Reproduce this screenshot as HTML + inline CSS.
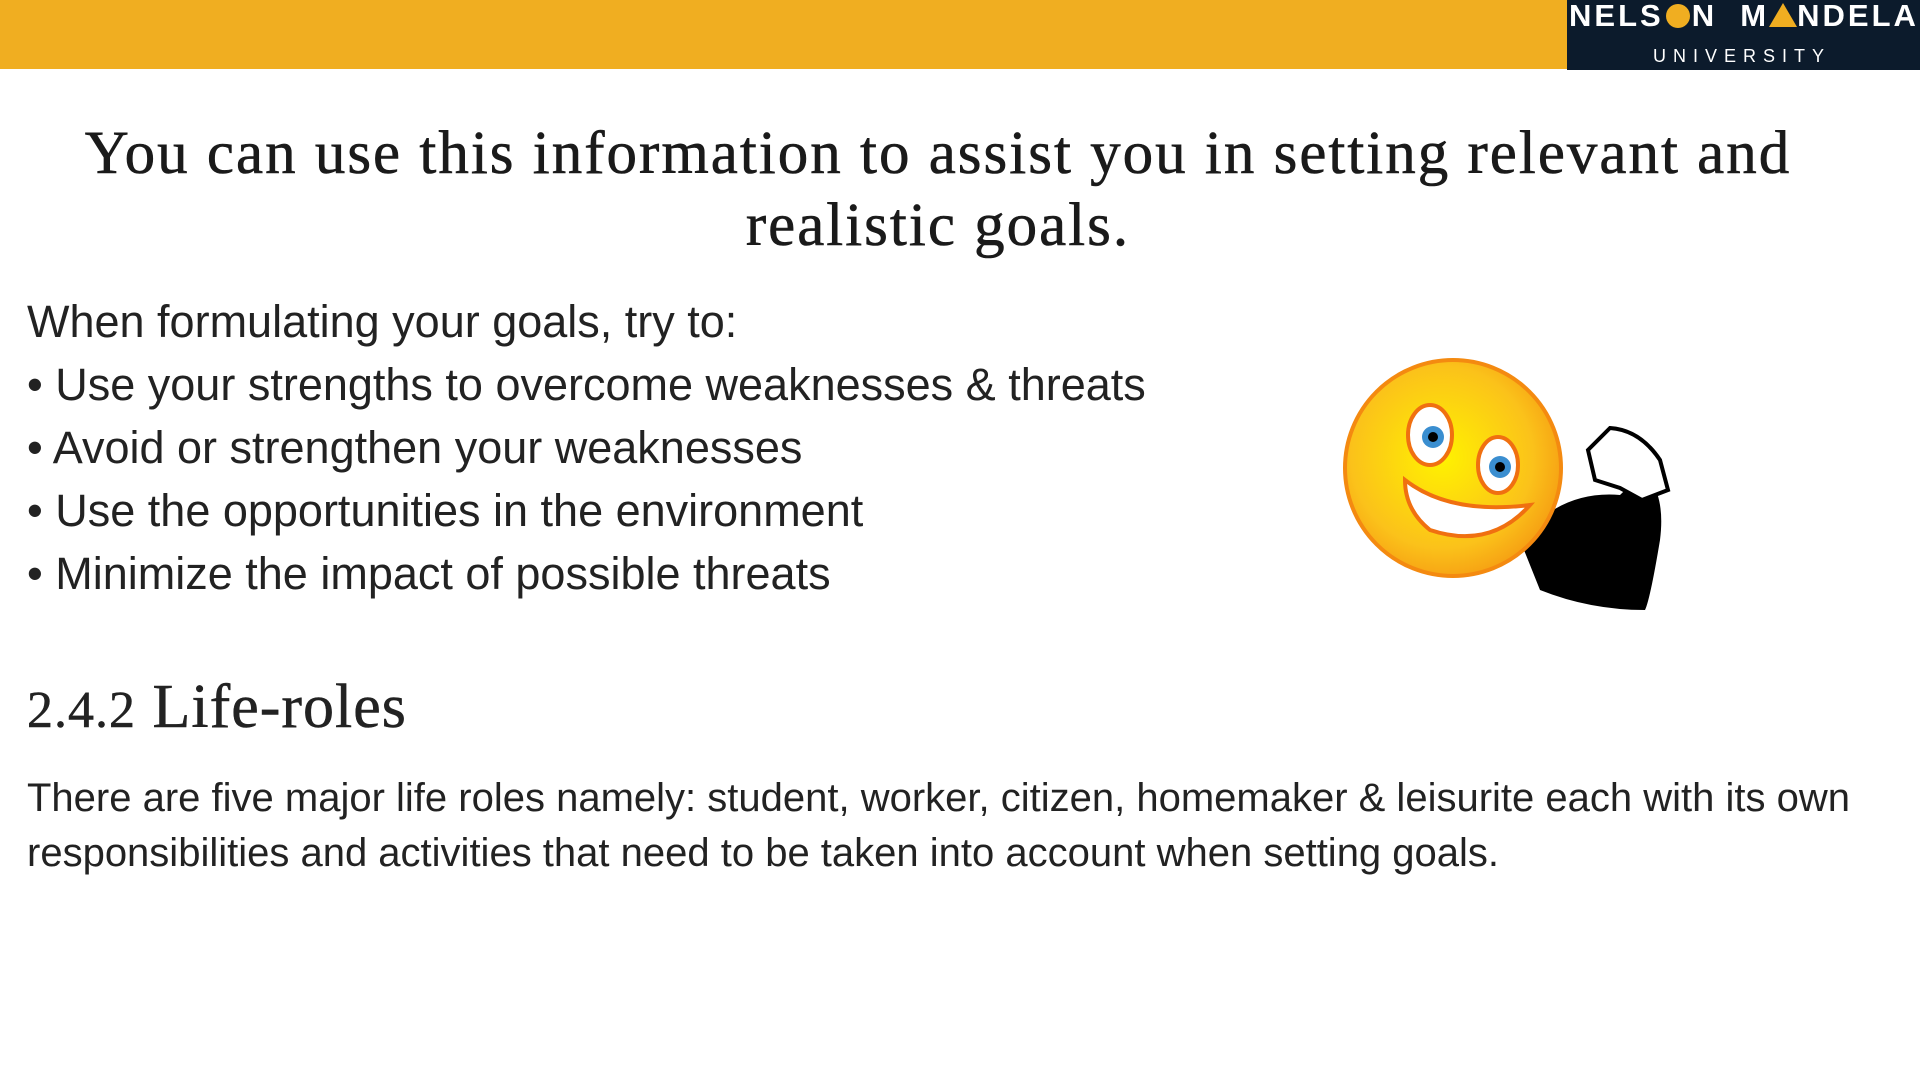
<!DOCTYPE html>
<html><head><meta charset="utf-8">
<style>
html,body{margin:0;padding:0}
body{width:1920px;height:1080px;position:relative;background:#fff;overflow:hidden;font-family:"Liberation Sans",sans-serif;color:#222}
.bar{position:absolute;left:0;top:0;width:1920px;height:69px;background:#f0ae21}
.logo{position:absolute;left:1567px;top:0;width:353px;height:70px;background:#0c1b2c;color:#fff}
.t{position:absolute;white-space:nowrap}
.title{font-family:"Liberation Serif",serif;font-size:61px;letter-spacing:2px;color:#1a1a1a;left:0;width:1876px;text-align:center;-webkit-text-stroke:0.6px #1a1a1a}
.li{font-size:45px;left:27px}
.p{font-size:40px;left:27px}
</style></head><body>
<div class="bar"></div>
<div class="logo">
 <div class="t" style="left:2px;top:-2px;font-size:31px;font-weight:bold;letter-spacing:3px">NELS<span style="display:inline-block;width:24px;height:24px;border-radius:50%;background:#f0ae21;vertical-align:-2px;margin:0 2px"></span>N&nbsp; M<span style="display:inline-block;width:0;height:0;border-left:14px solid transparent;border-right:14px solid transparent;border-bottom:24px solid #f0ae21;vertical-align:-1px"></span>NDELA</div>
 <div class="t" style="left:86px;top:46px;font-size:18px;letter-spacing:7px">UNIVERSITY</div>
</div>
<div class="t title" style="top:119px">You can use this information to assist you in setting relevant and</div>
<div class="t title" style="top:191px">realistic goals.</div>
<div class="t li" style="top:296px">When formulating your goals, try to:</div>
<div class="t li" style="top:359px">• Use your strengths to overcome weaknesses &amp; threats</div>
<div class="t li" style="top:422px">• Avoid or strengthen your weaknesses</div>
<div class="t li" style="top:485px">• Use the opportunities in the environment</div>
<div class="t li" style="top:548px">• Minimize the impact of possible threats</div>
<div class="t" style="left:27px;top:672px;font-family:'Liberation Serif',serif;font-size:62px;letter-spacing:1px;-webkit-text-stroke:0.5px #222"><span style="font-size:52px">2.4.2</span> Life-roles</div>
<div class="t p" style="top:776px">There are five major life roles namely: student, worker, citizen, homemaker &amp; leisurite each with its own</div>
<div class="t p" style="top:831px">responsibilities and activities that need to be taken into account when setting goals.</div>
<svg style="position:absolute;left:1320px;top:340px" width="360" height="290">
 <defs><radialGradient id="g" cx="0.45" cy="0.45" r="0.6"><stop offset="0" stop-color="#fff200"/><stop offset="0.7" stop-color="#fbc21a"/><stop offset="1" stop-color="#f59a12"/></radialGradient></defs>
 <path d="M200 200 Q240 150 300 155 Q320 135 330 140 Q345 160 340 200 Q330 260 325 270 Q270 270 220 250 Z" fill="#000"/>
 <path d="M268 110 L290 88 Q320 90 340 120 L348 150 L322 160 L300 148 L275 140 Z" fill="#fff" stroke="#000" stroke-width="4"/>
 <circle cx="133" cy="128" r="108" fill="url(#g)" stroke="#f48a10" stroke-width="4"/>
 <ellipse cx="110" cy="95" rx="22" ry="30" fill="#fff" stroke="#f07010" stroke-width="4"/>
 <ellipse cx="178" cy="125" rx="20" ry="28" fill="#fff" stroke="#f07010" stroke-width="4"/>
 <circle cx="113" cy="97" r="11" fill="#3a8ed0"/><circle cx="113" cy="97" r="5" fill="#000"/>
 <circle cx="180" cy="127" r="11" fill="#3a8ed0"/><circle cx="180" cy="127" r="5" fill="#000"/>
 <path d="M85 140 Q130 175 210 165 Q170 210 110 190 Q85 170 85 140 Z" fill="#fff" stroke="#f07010" stroke-width="4"/>
</svg>
</body></html>
